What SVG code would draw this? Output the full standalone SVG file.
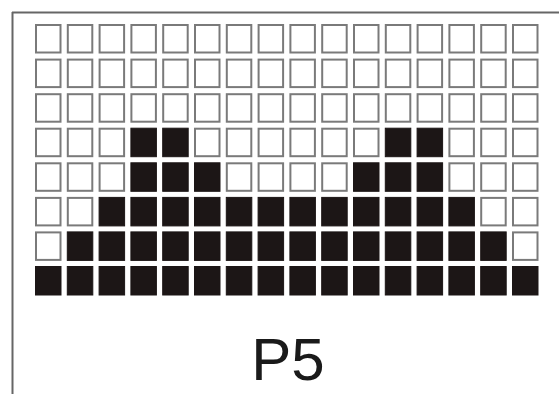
<svg xmlns="http://www.w3.org/2000/svg" width="559" height="394" viewBox="0 0 559 394">
<style>
.w{fill:#ffffff;stroke:#7a7a7a;stroke-width:2}
.b{fill:#1c1616;stroke:#1c1616;stroke-width:1}
.lbl{font-family:"Liberation Sans",Arial,sans-serif;font-size:60px;fill:#1a1a1a;text-anchor:middle}
</style>
<rect x="0" y="0" width="559" height="394" fill="#ffffff"/>
<g id="frame">
<line x1="12.5" y1="12" x2="12.5" y2="394" stroke="#666" stroke-width="2"/>
<line x1="12" y1="12.5" x2="559" y2="12.5" stroke="#666" stroke-width="2"/>
</g>
<defs>
<rect id="cw" class="w" x="1" y="1" width="24.5" height="27.5"/>
<rect id="cb" class="b" x="0.5" y="0.5" width="25.5" height="28.5"/>
</defs>
<g id="grid">
<g id="row0">
<use href="#cw" x="35" y="24"/><use href="#cw" x="66.8" y="24"/><use href="#cw" x="98.6" y="24"/><use href="#cw" x="130.4" y="24"/><use href="#cw" x="162.2" y="24"/><use href="#cw" x="194" y="24"/><use href="#cw" x="225.8" y="24"/><use href="#cw" x="257.6" y="24"/><use href="#cw" x="289.4" y="24"/><use href="#cw" x="321.2" y="24"/><use href="#cw" x="353" y="24"/><use href="#cw" x="384.8" y="24"/><use href="#cw" x="416.6" y="24"/><use href="#cw" x="448.4" y="24"/><use href="#cw" x="480.2" y="24"/><use href="#cw" x="512" y="24"/>
</g>
<g id="row1">
<use href="#cw" x="35" y="58.6"/><use href="#cw" x="66.8" y="58.6"/><use href="#cw" x="98.6" y="58.6"/><use href="#cw" x="130.4" y="58.6"/><use href="#cw" x="162.2" y="58.6"/><use href="#cw" x="194" y="58.6"/><use href="#cw" x="225.8" y="58.6"/><use href="#cw" x="257.6" y="58.6"/><use href="#cw" x="289.4" y="58.6"/><use href="#cw" x="321.2" y="58.6"/><use href="#cw" x="353" y="58.6"/><use href="#cw" x="384.8" y="58.6"/><use href="#cw" x="416.6" y="58.6"/><use href="#cw" x="448.4" y="58.6"/><use href="#cw" x="480.2" y="58.6"/><use href="#cw" x="512" y="58.6"/>
</g>
<g id="row2">
<use href="#cw" x="35" y="93.2"/><use href="#cw" x="66.8" y="93.2"/><use href="#cw" x="98.6" y="93.2"/><use href="#cw" x="130.4" y="93.2"/><use href="#cw" x="162.2" y="93.2"/><use href="#cw" x="194" y="93.2"/><use href="#cw" x="225.8" y="93.2"/><use href="#cw" x="257.6" y="93.2"/><use href="#cw" x="289.4" y="93.2"/><use href="#cw" x="321.2" y="93.2"/><use href="#cw" x="353" y="93.2"/><use href="#cw" x="384.8" y="93.2"/><use href="#cw" x="416.6" y="93.2"/><use href="#cw" x="448.4" y="93.2"/><use href="#cw" x="480.2" y="93.2"/><use href="#cw" x="512" y="93.2"/>
</g>
<g id="row3">
<use href="#cw" x="35" y="127.7"/><use href="#cw" x="66.8" y="127.7"/><use href="#cw" x="98.6" y="127.7"/><use href="#cb" x="130.4" y="127.7"/><use href="#cb" x="162.2" y="127.7"/><use href="#cw" x="194" y="127.7"/><use href="#cw" x="225.8" y="127.7"/><use href="#cw" x="257.6" y="127.7"/><use href="#cw" x="289.4" y="127.7"/><use href="#cw" x="321.2" y="127.7"/><use href="#cw" x="353" y="127.7"/><use href="#cb" x="384.8" y="127.7"/><use href="#cb" x="416.6" y="127.7"/><use href="#cw" x="448.4" y="127.7"/><use href="#cw" x="480.2" y="127.7"/><use href="#cw" x="512" y="127.7"/>
</g>
<g id="row4">
<use href="#cw" x="35" y="162.3"/><use href="#cw" x="66.8" y="162.3"/><use href="#cw" x="98.6" y="162.3"/><use href="#cb" x="130.4" y="162.3"/><use href="#cb" x="162.2" y="162.3"/><use href="#cb" x="194" y="162.3"/><use href="#cw" x="225.8" y="162.3"/><use href="#cw" x="257.6" y="162.3"/><use href="#cw" x="289.4" y="162.3"/><use href="#cw" x="321.2" y="162.3"/><use href="#cb" x="353" y="162.3"/><use href="#cb" x="384.8" y="162.3"/><use href="#cb" x="416.6" y="162.3"/><use href="#cw" x="448.4" y="162.3"/><use href="#cw" x="480.2" y="162.3"/><use href="#cw" x="512" y="162.3"/>
</g>
<g id="row5">
<use href="#cw" x="35" y="196.9"/><use href="#cw" x="66.8" y="196.9"/><use href="#cb" x="98.6" y="196.9"/><use href="#cb" x="130.4" y="196.9"/><use href="#cb" x="162.2" y="196.9"/><use href="#cb" x="194" y="196.9"/><use href="#cb" x="225.8" y="196.9"/><use href="#cb" x="257.6" y="196.9"/><use href="#cb" x="289.4" y="196.9"/><use href="#cb" x="321.2" y="196.9"/><use href="#cb" x="353" y="196.9"/><use href="#cb" x="384.8" y="196.9"/><use href="#cb" x="416.6" y="196.9"/><use href="#cb" x="448.4" y="196.9"/><use href="#cw" x="480.2" y="196.9"/><use href="#cw" x="512" y="196.9"/>
</g>
<g id="row6">
<use href="#cw" x="35" y="231.4"/><use href="#cb" x="66.8" y="231.4"/><use href="#cb" x="98.6" y="231.4"/><use href="#cb" x="130.4" y="231.4"/><use href="#cb" x="162.2" y="231.4"/><use href="#cb" x="194" y="231.4"/><use href="#cb" x="225.8" y="231.4"/><use href="#cb" x="257.6" y="231.4"/><use href="#cb" x="289.4" y="231.4"/><use href="#cb" x="321.2" y="231.4"/><use href="#cb" x="353" y="231.4"/><use href="#cb" x="384.8" y="231.4"/><use href="#cb" x="416.6" y="231.4"/><use href="#cb" x="448.4" y="231.4"/><use href="#cb" x="480.2" y="231.4"/><use href="#cw" x="512" y="231.4"/>
</g>
<g id="row7">
<use href="#cb" x="35" y="266"/><use href="#cb" x="66.8" y="266"/><use href="#cb" x="98.6" y="266"/><use href="#cb" x="130.4" y="266"/><use href="#cb" x="162.2" y="266"/><use href="#cb" x="194" y="266"/><use href="#cb" x="225.8" y="266"/><use href="#cb" x="257.6" y="266"/><use href="#cb" x="289.4" y="266"/><use href="#cb" x="321.2" y="266"/><use href="#cb" x="353" y="266"/><use href="#cb" x="384.8" y="266"/><use href="#cb" x="416.6" y="266"/><use href="#cb" x="448.4" y="266"/><use href="#cb" x="480.2" y="266"/><use href="#cb" x="512" y="266"/>
</g>
</g>
<g id="label">
<text class="lbl" x="288" y="380">P5</text>
</g>
</svg>
